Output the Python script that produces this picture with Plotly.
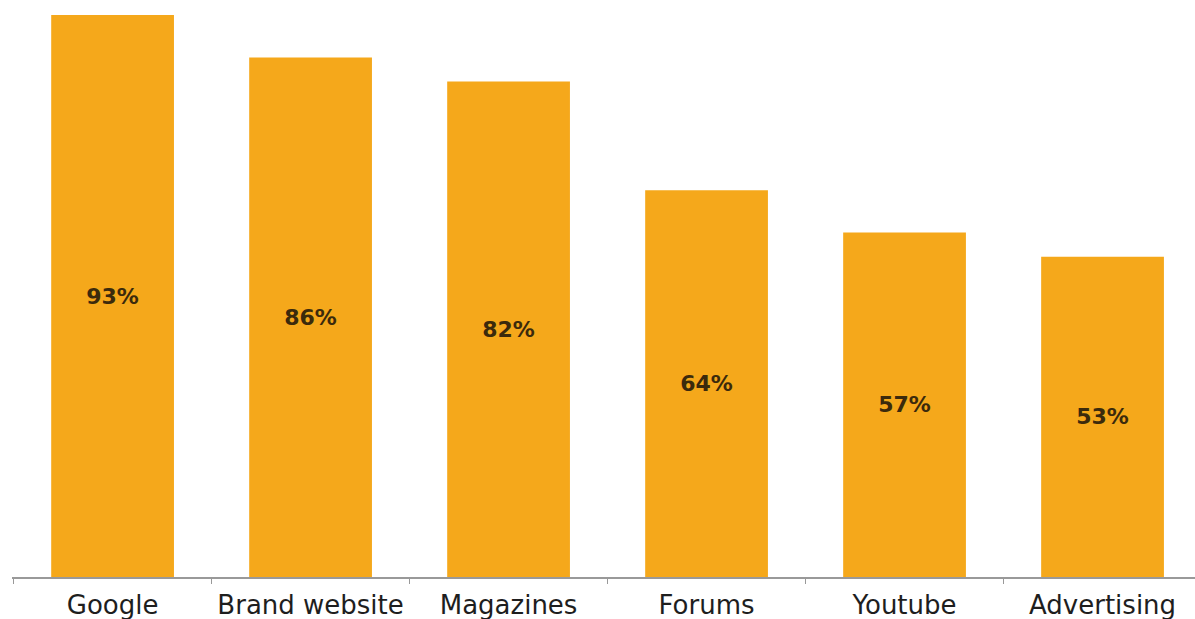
import plotly.graph_objects as go

categories = ["Google", "Brand website", "Magazines", "Forums", "Youtube", "Advertising"]
values = [93, 86, 82, 64, 57, 53]
labels = ["93%", "86%", "82%", "64%", "57%", "53%"]

fig = go.Figure(go.Bar(
    x=categories, y=values, text=labels,
    textposition="inside", insidetextanchor="middle",
    textfont=dict(family="DejaVu Sans", size=22, color="#3b2a0c", weight="bold"),
    marker=dict(color="#F5A81B", line=dict(width=0)),
    cliponaxis=False,
))
fig.update_layout(
    width=1195, height=619,
    margin=dict(l=12, r=0, t=0, b=42),
    paper_bgcolor="white", plot_bgcolor="white",
    bargap=0.38, showlegend=False,
    uniformtext=dict(mode=False),
)
fig.update_xaxes(
    range=[-0.508, 5.467], showgrid=False, showline=True, linecolor="#999999", linewidth=1.5,
    ticks="outside", tickson="boundaries", ticklen=5, tickcolor="#999999",
    ticklabelstandoff=4,
    tickfont=dict(family="DejaVu Sans", size=26, color="#1e1e1e"),
)
fig.update_yaxes(range=[0, 95.5], visible=False, showgrid=False, zeroline=False)
fig.write_html("out.html")
